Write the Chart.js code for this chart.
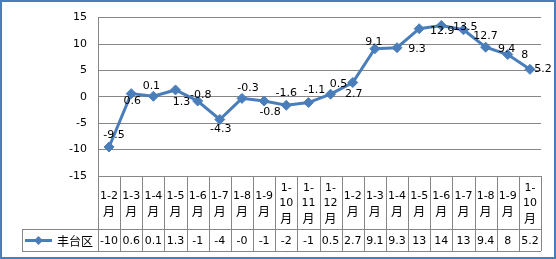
<!DOCTYPE html>
<html>
<head>
<meta charset="utf-8">
<script src="https://cdn.jsdelivr.net/npm/chart.js@4/dist/chart.umd.min.js"></script>
<style>
  html, body { margin: 0; padding: 0; background: #fff; }
  #wrap { width: 556px; height: 259px; position: relative; }
</style>
</head>
<body>
<div id="wrap"><canvas id="chart" width="556" height="259"></canvas></div>
<script>
// categories and values
const categories = [
  "1-2月", "1-3月", "1-4月", "1-5月", "1-6月", "1-7月", "1-8月", "1-9月", "1-10月", "1-11月",
  "1-12月", "1-2月", "1-3月", "1-4月", "1-5月", "1-6月", "1-7月", "1-8月", "1-9月", "1-10月"
];
const values = [-9.5, 0.6, 0.1, 1.3, -0.8, -4.3, -0.3, -0.8, -1.6, -1.1, 0.5, 2.7, 9.1, 9.3, 12.9, 13.5, 12.7, 9.4, 8, 5.2];
// values as printed in the data table under the chart
const tableValues = ["-10", "0.6", "0.1", "1.3", "-1", "-4", "-0", "-1", "-2", "-1", "0.5", "2.7", "9.1", "9.3", "13", "14", "13", "9.4", "8", "5.2"];
const yTicks = [-15, -10, -5, 0, 5, 10, 15];
const seriesName = "丰台区";

// label nudges (dx, dy) relative to each point, like Excel's placement
const labelOffsets = [
  [5, -12], [1, 8], [-2, -10], [6, 12], [3, -6], [1, 10], [6, -10], [6, 11], [0, -12], [6, -12],
  [8, -10], [1, 12], [-1, -7], [20, 1], [23, 2], [24, 2], [22, 6], [21, 2], [17, 1], [13, 0]
];

const BLUE = "#4A7EBB";
const GRID = "#868686";
const NUM_FONT = "11px 'DejaVu Sans'";
const CJK_FONT = "12px 'Noto Sans CJK SC'";

const labelPlugin = {
  id: "pointLabels",
  afterDatasetsDraw(chart) {
    const ctx = chart.ctx;
    const meta = chart.getDatasetMeta(0);
    ctx.save();
    ctx.font = NUM_FONT;
    ctx.fillStyle = "#000";
    ctx.textAlign = "center";
    ctx.textBaseline = "middle";
    meta.data.forEach((pt, i) => {
      const off = labelOffsets[i] || [0, -10];
      ctx.fillText(String(values[i]), pt.x + off[0], pt.y + off[1]);
    });
    ctx.restore();
  }
};

const tablePlugin = {
  id: "dataTable",
  afterDraw(chart) {
    const ctx = chart.ctx;
    const area = chart.chartArea;
    const x = chart.scales.x;
    const n = categories.length;
    const band = (x.right - x.left) / n;
    const top = area.bottom;
    const mid = top + 53;
    const bottom = top + 75;
    const legendLeft = 22;

    ctx.save();
    ctx.strokeStyle = GRID;
    ctx.lineWidth = 1;
    ctx.beginPath();
    for (let i = 0; i <= n; i++) {
      const bx = Math.round(x.left + band * i) + 0.5;
      ctx.moveTo(bx, top);
      ctx.lineTo(bx, bottom);
    }
    ctx.moveTo(legendLeft + 0.5, mid);
    ctx.lineTo(legendLeft + 0.5, bottom);
    ctx.moveTo(legendLeft, Math.round(mid) + 0.5);
    ctx.lineTo(x.right, Math.round(mid) + 0.5);
    ctx.moveTo(legendLeft, Math.round(bottom) + 0.5);
    ctx.lineTo(x.right, Math.round(bottom) + 0.5);
    ctx.stroke();

    // header row: category names wrapped like Excel
    ctx.fillStyle = "#000";
    ctx.textAlign = "center";
    ctx.textBaseline = "middle";
    categories.forEach((c, i) => {
      const cx = x.getPixelForValue(i);
      const m = c.match(/^(\d+-)(\d+)(月)$/);
      const lines = m[2].length > 1 ? [m[1], m[2], m[3]] : [m[1] + m[2], m[3]];
      const lh = 15;
      const cy = (top + mid) / 2 + 1;
      lines.forEach((t, k) => {
        ctx.font = t === "月" ? CJK_FONT : NUM_FONT;
        ctx.fillText(t, cx, cy + (k - (lines.length - 1) / 2) * lh);
      });
      ctx.font = NUM_FONT;
      ctx.fillText(tableValues[i], cx, (mid + bottom) / 2 + 1);
    });

    // legend key in the table
    const ly = Math.round((mid + bottom) / 2) + 0.5;
    ctx.strokeStyle = BLUE;
    ctx.lineWidth = 3;
    ctx.beginPath();
    ctx.moveTo(25, ly);
    ctx.lineTo(52, ly);
    ctx.stroke();
    ctx.fillStyle = BLUE;
    ctx.beginPath();
    ctx.moveTo(38.5, ly - 4.5);
    ctx.lineTo(43, ly);
    ctx.lineTo(38.5, ly + 4.5);
    ctx.lineTo(34, ly);
    ctx.closePath();
    ctx.fill();
    ctx.fillStyle = "#000";
    ctx.textAlign = "left";
    ctx.font = CJK_FONT;
    ctx.fillText(seriesName, 57, ly + 1);

    // outer frame
    ctx.strokeStyle = BLUE;
    ctx.lineWidth = 2;
    ctx.strokeRect(1, 1, chart.width - 2, chart.height - 2);
    ctx.restore();
  }
};

new Chart(document.getElementById("chart"), {
  type: "line",
  data: {
    labels: categories,
    datasets: [
      {
        label: seriesName,
        data: values,
        borderColor: BLUE,
        backgroundColor: BLUE,
        borderWidth: 3,
        pointStyle: "rectRot",
        pointRadius: 5,
        pointHoverRadius: 5,
        pointBorderWidth: 1,
        tension: 0,
      },
    ],
  },
  options: {
    responsive: false,
    animation: false,
    layout: { padding: { top: 14, right: 15, bottom: 83, left: 0 } },
    plugins: {
      legend: { display: false },
      tooltip: { enabled: false },
    },
    scales: {
      x: {
        display: false,
        offset: true,
      },
      y: {
        min: -15,
        max: 15,
        afterFit: function (scale) {
          scale.width = 98;
        },
        afterBuildTicks: function (scale) {
          scale.ticks = yTicks.map((v) => ({ value: v }));
        },
        ticks: {
          color: "#000",
          font: { family: "DejaVu Sans", size: 11 },
          padding: 11,
        },
        grid: { color: GRID, drawTicks: false },
        border: { display: true, color: GRID },
      },
    },
  },
  plugins: [labelPlugin, tablePlugin],
});
</script>
</body>
</html>
